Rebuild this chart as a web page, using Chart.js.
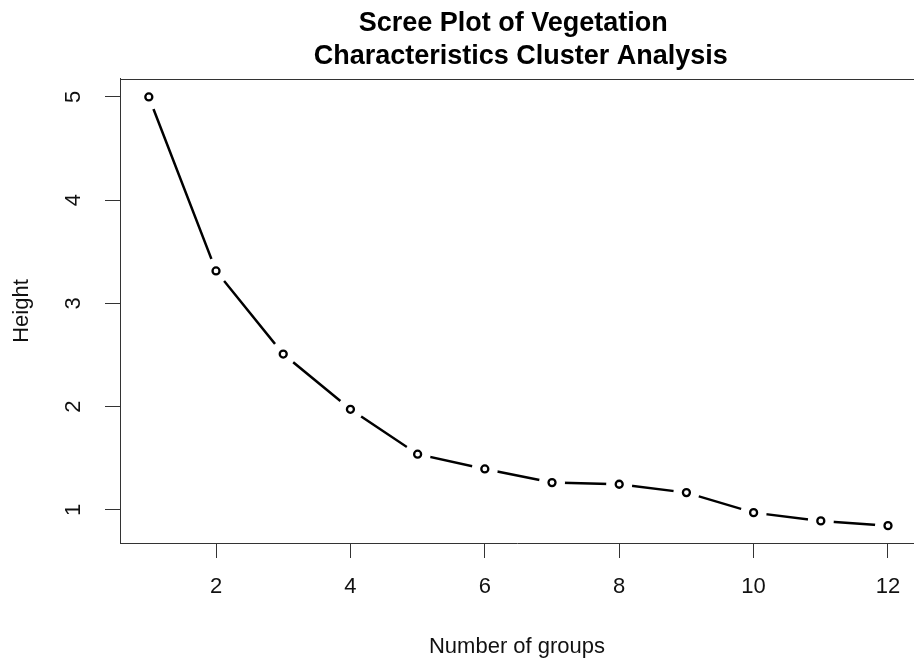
<!DOCTYPE html>
<html>
<head>
<meta charset="utf-8">
<title>Scree Plot</title>
<script src="https://cdn.jsdelivr.net/npm/chart.js@4.4.1/dist/chart.umd.min.js"></script>
<style>
  html, body { margin: 0; padding: 0; background: #fff; overflow: hidden; }
  #wrap { width: 914px; height: 662px; }
</style>
</head>
<body>
<div id="wrap"><canvas id="screeChart" width="914" height="662"></canvas></div>
<script>
// Scree plot data (height of the merge for each number of groups)
const groups = [1, 2, 3, 4, 5, 6, 7, 8, 9, 10, 11, 12];
const heights = [5.00, 3.315, 2.51, 1.975, 1.54, 1.397, 1.265, 1.249, 1.168, 0.974, 0.894, 0.848];
const xTicks = [2, 4, 6, 8, 10, 12];
const yTicks = [1, 2, 3, 4, 5];
const titleLines = ['Scree Plot of Vegetation ', ' Characteristics Cluster Analysis'];

const FONT = "'Liberation Sans', Arial, sans-serif";
const points = groups.map((g, i) => ({ x: g, y: heights[i] }));

// top edge of the plot box (left and bottom come from the axis borders)
const boxTop = {
    id: 'boxTop',
    afterDraw(chart) {
        const { ctx, chartArea } = chart;
        const y = Math.round(chartArea.top) + 0.5;
        ctx.save();
        ctx.strokeStyle = '#333';
        ctx.lineWidth = 1;
        ctx.beginPath();
        ctx.moveTo(chartArea.left, y);
        ctx.lineTo(chartArea.right, y);
        ctx.stroke();
        ctx.restore();
    }
};

function initChart() {
    const ctx = document.getElementById('screeChart').getContext('2d');
    new Chart(ctx, {
        type: 'scatter',
        data: {
            datasets: [{
                // open circle markers, drawn on top
                label: 'markers',
                data: points,
                showLine: false,
                pointRadius: 3.5,
                pointBorderWidth: 2.3,
                pointBorderColor: '#000',
                pointBackgroundColor: '#fff',
                order: 0
            }, {
                // connecting line, white points cut the gaps like type = "b"
                label: 'line',
                data: points,
                showLine: true,
                borderColor: '#000',
                borderWidth: 2.5,
                pointRadius: 13,
                pointBorderWidth: 0,
                pointBackgroundColor: '#fff',
                pointBorderColor: '#fff',
                order: 1
            }]
        },
        options: {
            responsive: false,
            animation: false,
            devicePixelRatio: 1,
            layout: { padding: 0, autoPadding: false },
            plugins: {
                legend: { display: false },
                tooltip: { enabled: false },
                title: {
                    display: true,
                    text: titleLines,
                    fullSize: false,
                    color: '#000',
                    font: { family: FONT, size: 27, weight: 'bold', lineHeight: 1.222 },
                    padding: { top: 6.6, bottom: 6.4 }
                }
            },
            scales: {
                x: {
                    type: 'linear',
                    min: 0.571,
                    max: 12.387,
                    afterBuildTicks: s => { s.ticks = xTicks.map(v => ({ value: v })); },
                    afterFit: s => { s.height = 119; },
                    grid: { drawOnChartArea: false, drawTicks: true, tickLength: 15, tickColor: '#333', tickWidth: 1 },
                    border: { display: true, color: '#333', width: 1 },
                    ticks: { font: { family: FONT, size: 22, lineHeight: 1.6 }, color: '#111', padding: 11.8, maxRotation: 0, autoSkip: false },
                    title: {
                        display: true,
                        text: 'Number of groups',
                        color: '#111',
                        font: { family: FONT, size: 22 },
                        padding: { top: 0, bottom: 1.5 }
                    }
                },
                y: {
                    type: 'linear',
                    min: 0.680,
                    max: 5.174,
                    afterBuildTicks: s => { s.ticks = yTicks.map(v => ({ value: v })); },
                    afterFit: s => { s.width = 120; },
                    grid: { drawOnChartArea: false, drawTicks: true, tickLength: 15, tickColor: '#333', tickWidth: 1 },
                    border: { display: true, color: '#333', width: 1 },
                    ticks: { font: { family: FONT, size: 22 }, color: '#111', padding: 24.5, minRotation: 90, maxRotation: 90, crossAlign: 'center', autoSkip: false },
                    title: {
                        display: true,
                        text: 'Height',
                        color: '#111',
                        font: { family: FONT, size: 22 },
                        padding: { top: 9, bottom: 0 }
                    }
                }
            }
        },
        plugins: [boxTop]
    });
}

document.addEventListener('DOMContentLoaded', initChart);
</script>
</body>
</html>
